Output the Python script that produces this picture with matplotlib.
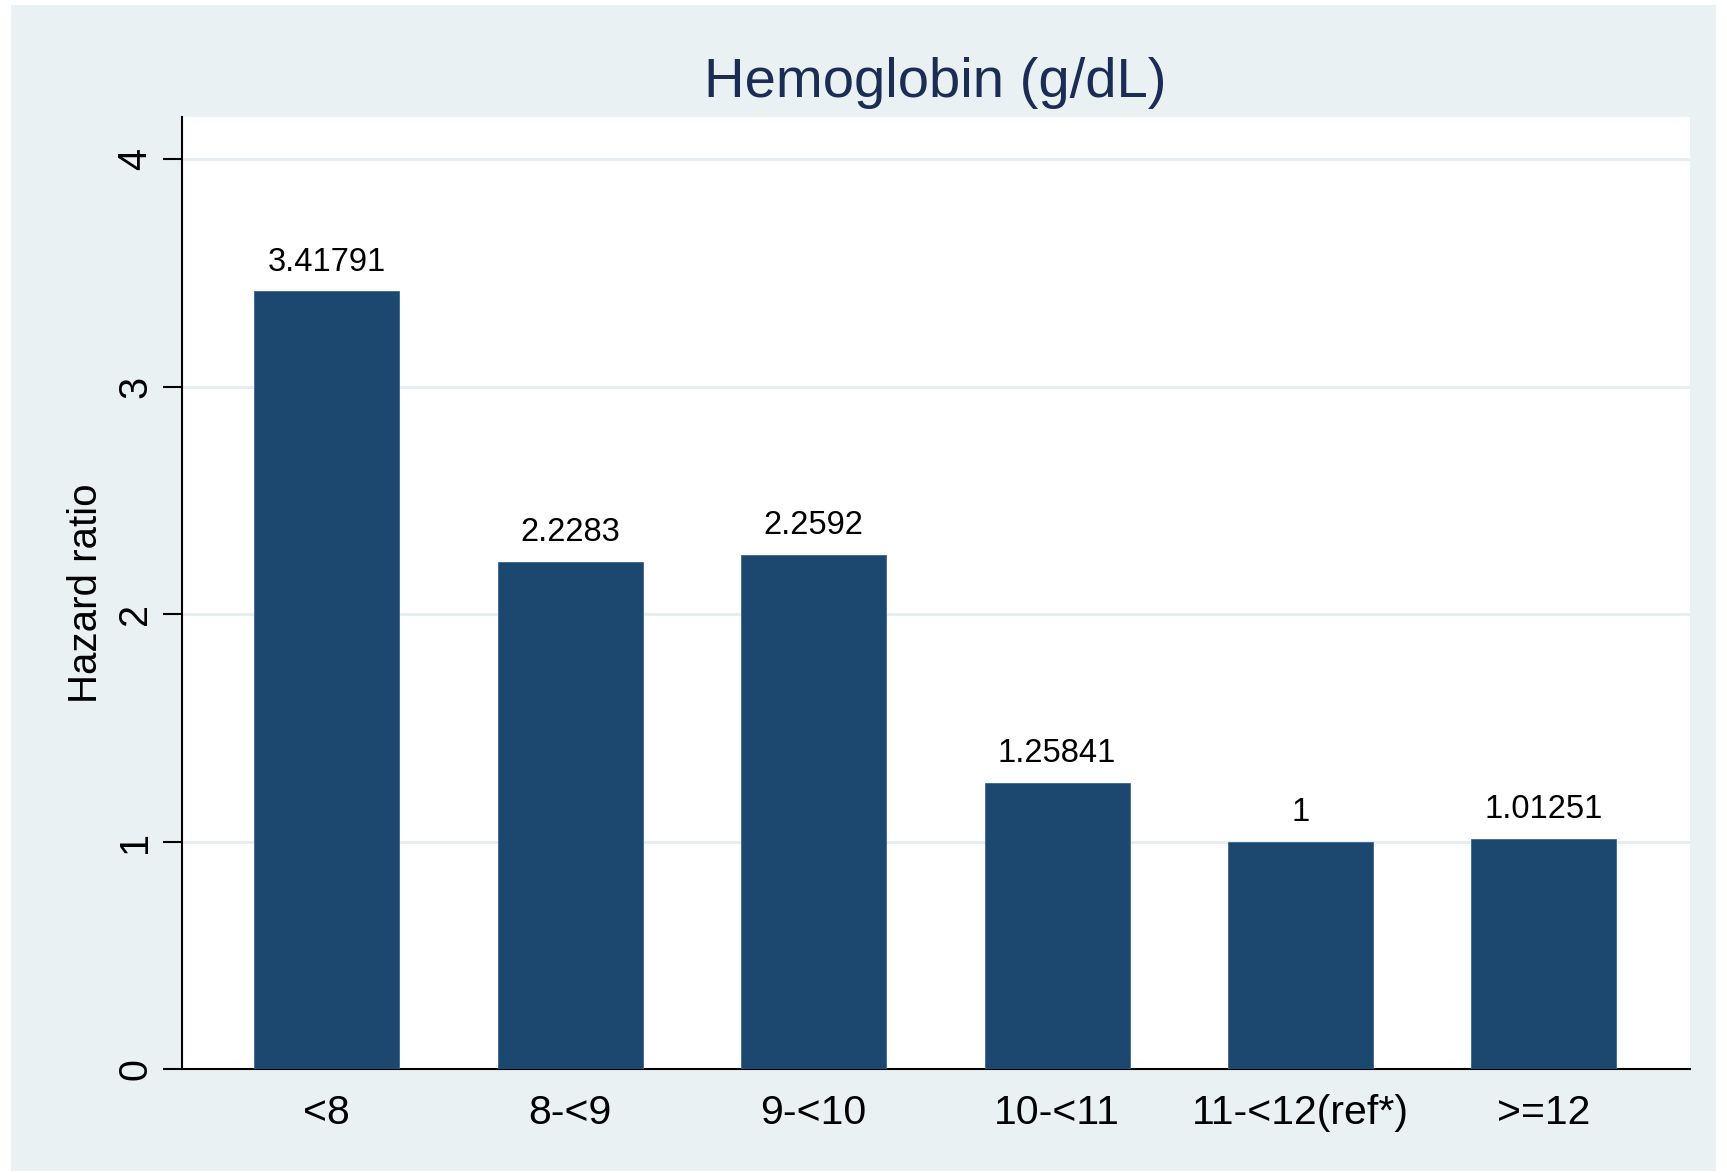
import matplotlib.pyplot as plt
from matplotlib.patches import Rectangle

plt.rcParams['font.family'] = ['Liberation Sans', 'DejaVu Sans']

# data
categories = ['<8', '8-<9', '9-<10', '10-<11', '11-<12(ref*)', '>=12']
hazard_ratio = [3.41791, 2.2283, 2.2592, 1.25841, 1.0, 1.01251]
value_labels = ['3.41791', '2.2283', '2.2592', '1.25841', '1', '1.01251']
y_ticks = [0, 1, 2, 3, 4]

bar_color = '#1c4870'
bg_color = '#eaf1f3'
grid_color = '#e6eef1'
title_color = '#1c2d55'

W, H = 1727, 1173
fig = plt.figure(figsize=(W / 100, H / 100), dpi=100)
fig.patch.set_facecolor('white')

# light outer region (Stata-style graph region)
fig.patches.append(Rectangle((11 / W, 2 / H), (1716 - 11) / W, (1168 - 2) / H,
                             transform=fig.transFigure, facecolor=bg_color,
                             edgecolor='none', zorder=-10))

ax = fig.add_axes([182 / W, (H - 1069) / H, (1690 - 182) / W, (1069 - 117) / H])
ax.set_zorder(1)
ax.set_facecolor('white')

x = list(range(len(categories)))
ax.bar(x, hazard_ratio, width=0.596, color=bar_color, edgecolor='#3a6690',
       linewidth=0.6, zorder=3)

for xi, v, lab in zip(x, hazard_ratio, value_labels):
    ax.annotate(lab, (xi, v), xytext=(0, 10), textcoords='offset points',
                ha='center', va='bottom', fontsize=23.5, color='black', zorder=4)

ax.set_xlim(-0.595, 5.6)
ax.set_ylim(0, 4.185)
ax.set_yticks(y_ticks)
ax.set_xticks(x)
ax.set_xticklabels(categories)

for t in y_ticks[1:]:
    ax.axhline(t, color=grid_color, linewidth=2.2, zorder=1)

for s in ['top', 'right']:
    ax.spines[s].set_visible(False)
for s in ['left', 'bottom']:
    ax.spines[s].set_linewidth(1.5)
    ax.spines[s].set_color('black')

ax.tick_params(axis='y', direction='out', length=14, width=1.5, labelsize=28.5,
               labelrotation=90, pad=6)
ax.tick_params(axis='x', length=0, labelsize=29.5, pad=18)
for lab in ax.get_yticklabels():
    lab.set_va('center')

ax.set_ylabel('Hazard ratio', fontsize=29, labelpad=8)
fig.text(935 / W, (H - 83) / H, 'Hemoglobin (g/dL)', ha='center', va='center',
         fontsize=40.5, color=title_color)

fig.savefig('out.png', dpi=100)
